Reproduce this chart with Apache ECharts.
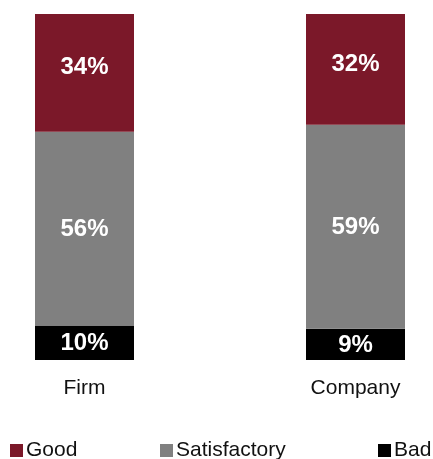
<!DOCTYPE html>
<html>
<head>
<meta charset="utf-8">
<script src="https://cdn.jsdelivr.net/npm/echarts@6/dist/echarts.min.js"></script>
<style>html,body{margin:0;padding:0;background:#fff;}#c{width:433px;height:459px;}</style>
</head>
<body>
<div id="c"></div>
<script>
var categories = ['Firm', 'Company'];
var good = [34, 32];
var satisfactory = [56, 59];
var bad = [10, 9];
var legendNames = ['Good', 'Satisfactory', 'Bad'];

var chart = echarts.init(document.getElementById('c'));
var font = '"Liberation Sans", Arial, sans-serif';
function seriesOf(name, data, color, dy) {
  return {
    name: name, type: 'bar', stack: 'total', data: data, barWidth: 99,
    itemStyle: { color: color },
    label: { show: true, position: 'inside', offset: [0, dy], color: '#fff', fontFamily: font, fontWeight: 'bold', fontSize: 24,
      formatter: function (p) { return p.value + '%'; } }
  };
}
var legendLefts = [10, 160, 378];
var legends = legendNames.map(function (n, i) {
  return { left: legendLefts[i], top: 440, padding: 0, itemWidth: 13, itemHeight: 13, icon: 'rect',
    data: [n], selectedMode: false,
    textStyle: { color: '#111', fontFamily: font, fontSize: 21, padding: [0, 0, 0, -2] } };
});
chart.setOption({
  animation: false,
  grid: { left: 84.5, right: 77.5, top: 14, bottom: 99 },
  xAxis: { type: 'category', data: categories, boundaryGap: false,
    axisLine: { show: false }, axisTick: { show: false }, splitLine: { show: false },
    axisLabel: { color: '#111', fontFamily: font, fontSize: 21, margin: 18 } },
  yAxis: { type: 'value', min: 0, max: 100, show: false },
  legend: legends,
  series: [
    seriesOf('Bad', bad, '#000000', 1),
    seriesOf('Satisfactory', satisfactory, '#808080', 1),
    seriesOf('Good', good, '#7b1829', -5)
  ]
});
</script>
</body>
</html>
